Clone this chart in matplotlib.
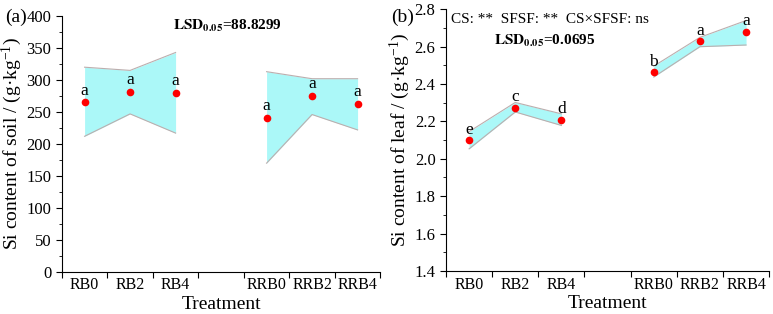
import numpy as np
import matplotlib
matplotlib.use('Agg')
import matplotlib.pyplot as plt
from matplotlib.ticker import MultipleLocator

plt.rcParams['font.family'] = ['Liberation Serif', 'DejaVu Serif']
plt.rcParams['mathtext.fontset'] = 'stix'
plt.rcParams['mathtext.default'] = 'regular'

# categories (index 3 is the empty gap between the two groups)
categories = ['RB0', 'RB2', 'RB4', '', 'RRB0', 'RRB2', 'RRB4']
group_rb = [0, 1, 2]
group_rrb = [4, 5, 6]

# (a) soil Si content
soil_mean = [265, 281, 280, 241, 275, 262]
soil_upper = [320, 315, 343, 313, 302, 302]
soil_lower = [212, 247, 217, 170, 246, 222]
soil_letters = ['a', 'a', 'a', 'a', 'a', 'a']

# (b) leaf Si content
leaf_mean = [2.098, 2.273, 2.208, 2.462, 2.628, 2.678]
leaf_upper = [2.145, 2.301, 2.240, 2.495, 2.649, 2.739]
leaf_lower = [2.053, 2.250, 2.178, 2.437, 2.599, 2.608]
leaf_letters = ['e', 'c', 'd', 'b', 'a', 'a']

FILL = '#abf8f8'
EDGE = '#bcaeae'


def draw_panel(ax, mean, upper, lower, letters, offset):
    xs = group_rb + group_rrb
    for g in (slice(0, 3), slice(3, 6)):
        x = xs[g]
        ax.fill_between(x, lower[g], upper[g], color=FILL, lw=0)
        ax.plot(x, upper[g], color=EDGE, lw=0.8)
        ax.plot(x, lower[g], color=EDGE, lw=0.8)
    ax.plot(xs, mean, 'o', color='red', ms=5.5, mec='none')
    for x, y, t in zip(xs, mean, letters):
        ax.text(x, y + offset, t, ha='center', va='bottom', fontsize=12.5)

    ax.set_xlim(-0.5, 6.5)
    ax.set_xticks(np.arange(-0.5, 7, 1))
    ax.set_xticklabels([])
    ax.set_xticks(np.arange(7), minor=True)
    ax.set_xticklabels(categories, minor=True, fontsize=11.5)
    ax.tick_params(axis='x', which='minor', length=0, pad=4)
    ax.tick_params(axis='x', which='major', direction='out', length=4)
    ax.tick_params(axis='y', which='major', direction='out', length=4, labelsize=12)
    ax.tick_params(axis='y', which='minor', direction='out', length=2)
    ax.spines['top'].set_visible(False)
    ax.spines['right'].set_visible(False)
    ax.set_xlabel('Treatment', fontsize=14, labelpad=2)


fig = plt.figure(figsize=(7.73, 3.14), dpi=100)
ax1 = fig.add_axes([0.080, 0.134, 0.412, 0.815])
ax2 = fig.add_axes([0.577, 0.137, 0.418, 0.834])

draw_panel(ax1, soil_mean, soil_upper, soil_lower, soil_letters, 6)
ax1.set_ylim(0, 400)
ax1.yaxis.set_major_locator(MultipleLocator(50))
ax1.yaxis.set_minor_locator(MultipleLocator(25))
ax1.set_ylabel('Si content of soil / (g·kg$^{-1}$)', fontsize=14, labelpad=2)
ax1.text(0.52, 0.96, r'$\mathbf{LSD_{0.05}}$=88.8299', transform=ax1.transAxes,
         ha='center', va='center', fontsize=11, fontweight='bold')
fig.text(0.006, 0.945, '(a)', fontsize=14, ha='left', va='center')

draw_panel(ax2, leaf_mean, leaf_upper, leaf_lower, leaf_letters, 0.014)
ax2.set_ylim(1.4, 2.8)
ax2.yaxis.set_major_locator(MultipleLocator(0.2))
ax2.yaxis.set_minor_locator(MultipleLocator(0.1))
ax2.set_ylabel('Si content of leaf / (g·kg$^{-1}$)', fontsize=14, labelpad=2)
ax2.text(0.015, 0.962, 'CS: **  SFSF: **  CS×SFSF: ns', transform=ax2.transAxes,
         ha='left', va='center', fontsize=11)
ax2.text(0.15, 0.88, r'$\mathbf{LSD_{0.05}}$=0.0695', transform=ax2.transAxes,
         ha='left', va='center', fontsize=11, fontweight='bold')
fig.text(0.506, 0.945, '(b)', fontsize=14, ha='left', va='center')

fig.savefig('out.png', dpi=100)
